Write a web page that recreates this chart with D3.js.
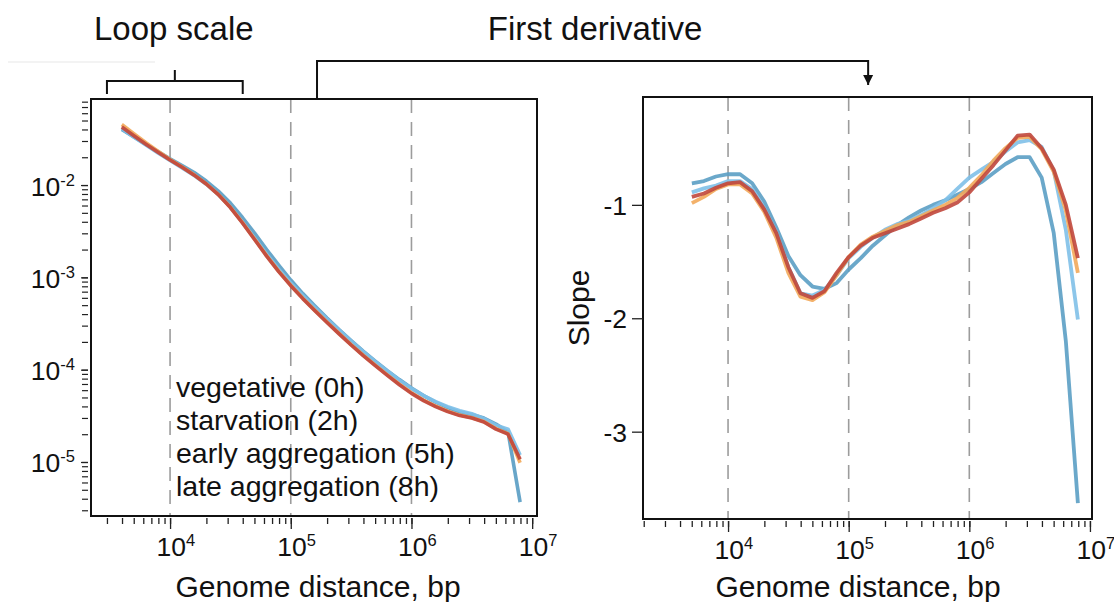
<!DOCTYPE html>
<html>
<head>
<meta charset="utf-8">
<script src="https://cdn.jsdelivr.net/npm/d3@7"></script>
<style>
  body { margin: 0; background: #fff; }
  svg text { font-family: "Liberation Sans", Arial, Helvetica, sans-serif; fill: #111; }
</style>
</head>
<body>
<svg id="chart" width="1114" height="602"></svg>
<script>
// Genomic separations (bp) at which contact probability is sampled
const distanceContact = [3981, 5012, 6310, 7943, 10000, 12589, 15849, 19953, 25119, 31623,
  39811, 50119, 63096, 79433, 100000, 125893, 158489, 199526, 251189, 316228,
  398107, 501187, 630957, 794328, 1000000, 1258925, 1584893, 1995262, 2511886, 3162278,
  3981072, 5011872, 6309573, 7943282];
// Separations at which the log-log slope is sampled
const distanceSlope = [5012, 6310, 7943, 10000, 12589, 15849, 19953, 25119, 31623,
  39811, 50119, 63096, 79433, 100000, 125893, 158489, 199526, 251189, 316228,
  398107, 501187, 630957, 794328, 1000000, 1258925, 1584893, 1995262, 2511886, 3162278,
  3981072, 5011872, 6309573, 7943282];

const stageNames = ["vegetative (0h)", "starvation (2h)", "early aggregation (5h)", "late aggregation (8h)"];
const stageColors = ["#5b9ec4", "#7fc0e8", "#f2a95a", "#c0473c"];

// P(s): contact probability vs. separation
const contactVegetative = [0.0399, 0.0331, 0.0275, 0.0230, 0.0192, 0.01626, 0.01365, 0.01104, 0.00861, 0.00638,
  0.00445, 0.00302, 0.00200, 0.00136, 0.000935, 0.000667, 0.000489, 0.000362, 0.000272, 0.000207,
  0.000159, 0.0001240, 0.0000977, 0.0000781, 0.0000632, 0.0000524, 0.0000446, 0.0000388, 0.0000347, 0.0000327,
  0.0000299, 0.0000258, 0.0000211, 0.00000368];
const contactStarvation = [0.0409, 0.0331, 0.0271, 0.0222, 0.0184, 0.01535, 0.01268, 0.01021, 0.00787, 0.00578,
  0.00397, 0.00267, 0.00179, 0.00123, 0.000867, 0.000635, 0.000471, 0.000353, 0.000268, 0.000204,
  0.000157, 0.0001225, 0.0000966, 0.0000771, 0.0000624, 0.0000524, 0.0000451, 0.0000398, 0.0000360, 0.0000334,
  0.0000295, 0.0000251, 0.0000227, 0.0000119];
const contactEarly = [0.0452, 0.0361, 0.0288, 0.0233, 0.0189, 0.0157, 0.0129, 0.0103, 0.00790, 0.00574,
  0.00392, 0.00260, 0.00172, 0.00117, 0.000822, 0.000594, 0.000439, 0.000328, 0.000247, 0.000187,
  0.000144, 0.000112, 0.0000880, 0.0000698, 0.0000562, 0.0000469, 0.0000404, 0.0000356, 0.0000322, 0.0000302,
  0.0000274, 0.0000230, 0.0000203, 0.0000098];
const contactLate = [0.0425, 0.0342, 0.0277, 0.0227, 0.0187, 0.01555, 0.0128, 0.01026, 0.00787, 0.00570,
  0.00388, 0.00257, 0.00170, 0.001156, 0.000813, 0.000588, 0.000434, 0.000324, 0.000244, 0.000185,
  0.000142, 0.0001104, 0.0000867, 0.0000687, 0.0000554, 0.0000462, 0.0000398, 0.0000351, 0.0000318, 0.0000299,
  0.0000271, 0.0000227, 0.0000200, 0.0000107];

// First derivative of log P(s) vs log s
const slopeVegetative = [-0.81, -0.79, -0.75, -0.73, -0.73, -0.81, -0.97, -1.20, -1.45, -1.62,
  -1.72, -1.74, -1.69, -1.57, -1.47, -1.36, -1.27, -1.18, -1.11, -1.05,
  -1.00, -0.96, -0.91, -0.86, -0.80, -0.72, -0.64, -0.58, -0.58, -0.76,
  -1.25, -2.20, -3.63];
const slopeStarvation = [-0.89, -0.855, -0.83, -0.79, -0.79, -0.86, -1.03, -1.24, -1.55, -1.78,
  -1.80, -1.75, -1.62, -1.47, -1.37, -1.29, -1.22, -1.17, -1.14, -1.09,
  -1.03, -0.96, -0.86, -0.76, -0.69, -0.62, -0.53, -0.45, -0.43, -0.49,
  -0.70, -1.22, -2.01];
const slopeEarly = [-0.985, -0.93, -0.86, -0.82, -0.82, -0.90, -1.06, -1.29, -1.60, -1.81,
  -1.84, -1.77, -1.62, -1.46, -1.35, -1.28, -1.23, -1.18, -1.15, -1.10,
  -1.05, -1.00, -0.94, -0.85, -0.74, -0.61, -0.50, -0.41, -0.40, -0.51,
  -0.71, -1.05, -1.60];
const slopeLate = [-0.93, -0.90, -0.85, -0.81, -0.80, -0.88, -1.04, -1.25, -1.55, -1.78,
  -1.82, -1.76, -1.60, -1.46, -1.36, -1.29, -1.25, -1.21, -1.17, -1.12,
  -1.07, -1.03, -0.98, -0.89, -0.77, -0.65, -0.52, -0.39, -0.38, -0.50,
  -0.69, -1.00, -1.47];

const decadeTicks = [1e4, 1e5, 1e6, 1e7];
const contactDecades = [1e-2, 1e-3, 1e-4, 1e-5];
const slopeTicks = [-1, -2, -3];
const loopScaleRange = [3000, 40000];

const contactSeries = [contactVegetative, contactStarvation, contactEarly, contactLate];
const slopeSeries = [slopeVegetative, slopeStarvation, slopeEarly, slopeLate];

const svg = d3.select("#chart");
const INK = "#111";

// ---------- panel geometry ----------
const L = { left: 91, right: 537, top: 99, bottom: 516 };
const R = { left: 643, right: 1092, top: 97, bottom: 519 };

const xL = d3.scaleLog().domain([Math.pow(10, 3.345), Math.pow(10, 7.04)]).range([L.left, L.right]);
const yL = d3.scaleLog().domain([Math.pow(10, -1.068), Math.pow(10, -5.585)]).range([L.top, L.bottom]);
const xR = d3.scaleLog().domain([Math.pow(10, 3.295), Math.pow(10, 7.017)]).range([R.left, R.right]);
const yR = d3.scaleLinear().domain([-0.049, -3.77]).range([R.top, R.bottom]);

const expOf = v => Math.round(Math.log10(v));

function powerLabel(sel) {
  sel.each(function (d) {
    const t = d3.select(this);
    t.text(null);
    t.append("tspan").text("10");
    t.append("tspan").attr("dy", -10).attr("font-size", 16.5).text(expOf(d));
  });
}

// dashed decade guides
function guides(g, x, P) {
  g.selectAll("line.guide").data(decadeTicks.filter(d => d < 1e7)).join("line")
    .attr("class", "guide")
    .attr("x1", d => x(d)).attr("x2", d => x(d))
    .attr("y1", P.top).attr("y2", P.bottom)
    .attr("stroke", "#9c9c9c").attr("stroke-width", 1.6)
    .attr("stroke-dasharray", "14,9");
}

// log x axis detached below a panel
function logXAxis(x, P, offset) {
  const all = x.ticks().filter(v => v >= x.domain()[0] && v <= x.domain()[1]);
  const minor = svg.append("g").attr("transform", `translate(0,${P.bottom + offset})`)
    .call(d3.axisBottom(x).tickValues(all).tickSize(6).tickFormat(""));
  minor.select(".domain").remove();
  minor.selectAll("line").attr("stroke", "#222").attr("stroke-width", 1.3);
  const major = svg.append("g").attr("transform", `translate(0,${P.bottom + offset})`)
    .call(d3.axisBottom(x).tickValues(decadeTicks).tickSize(11).tickPadding(8));
  major.select(".domain").remove();
  major.selectAll("line").attr("stroke", "#222").attr("stroke-width", 1.3);
  major.selectAll("text")
    .attr("font-size", 26.5).attr("fill", INK)
    .attr("text-anchor", "start")
    .attr("x", -14).attr("dy", "0.71em")
    .call(powerLabel);
}

// ---------- left panel: contact probability ----------
const gL = svg.append("g");
guides(gL, xL, L);

const lineL = d3.line()
  .x(d => xL(d[0])).y(d => yL(d[1]))
  .curve(d3.curveLinear);
gL.selectAll("path.pc").data(contactSeries).join("path")
  .attr("class", "pc")
  .attr("d", s => lineL(distanceContact.map((dd, i) => [dd, s[i]])))
  .attr("fill", "none")
  .attr("stroke", (s, i) => stageColors[i])
  .attr("stroke-width", 3.6)
  .attr("stroke-opacity", 0.92)
  .attr("stroke-linejoin", "round");

gL.append("rect")
  .attr("x", L.left).attr("y", L.top)
  .attr("width", L.right - L.left).attr("height", L.bottom - L.top)
  .attr("fill", "none").attr("stroke", INK).attr("stroke-width", 2);

// y axis (log) detached to the left
{
  const all = yL.ticks().filter(v => v <= yL.domain()[0] && v >= yL.domain()[1]);
  const minor = svg.append("g").attr("transform", `translate(${L.left - 3},0)`)
    .call(d3.axisLeft(yL).tickValues(all).tickSize(6).tickFormat(""));
  minor.select(".domain").remove();
  minor.selectAll("line").attr("stroke", "#222").attr("stroke-width", 1.2);
  const major = svg.append("g").attr("transform", `translate(${L.left - 3},0)`)
    .call(d3.axisLeft(yL).tickValues(contactDecades).tickSize(7).tickPadding(6));
  major.select(".domain").remove();
  major.selectAll("line").attr("stroke", "#222").attr("stroke-width", 1.2);
  major.selectAll("text")
    .attr("font-size", 26.5).attr("fill", INK)
    .attr("dy", 10)
    .call(powerLabel);
}
logXAxis(xL, L, 2);

// stage names
svg.append("g").selectAll("text").data(stageNames).join("text")
  .attr("x", 176)
  .attr("y", (d, i) => 397 + i * 33)
  .attr("font-size", 28.5)
  .text(d => d);

svg.append("text")
  .attr("x", 318).attr("y", 597)
  .attr("text-anchor", "middle").attr("font-size", 30)
  .text("Genome distance, bp");

// ---------- right panel: slope ----------
const gR = svg.append("g");
guides(gR, xR, R);

const lineR = d3.line().x(d => xR(d[0])).y(d => yR(d[1]));
gR.selectAll("path.sl").data(slopeSeries).join("path")
  .attr("class", "sl")
  .attr("d", s => lineR(distanceSlope.map((dd, i) => [dd, s[i]])))
  .attr("fill", "none")
  .attr("stroke", (s, i) => stageColors[i])
  .attr("stroke-width", 3.8)
  .attr("stroke-opacity", 0.9)
  .attr("stroke-linejoin", "round");

gR.append("rect")
  .attr("x", R.left).attr("y", R.top)
  .attr("width", R.right - R.left).attr("height", R.bottom - R.top)
  .attr("fill", "none").attr("stroke", INK).attr("stroke-width", 2);

{
  const ax = svg.append("g").attr("transform", `translate(${R.left},0)`)
    .call(d3.axisLeft(yR).tickValues(slopeTicks).tickSize(11).tickPadding(5)
      .tickFormat(d => "-" + Math.abs(d)));
  ax.select(".domain").remove();
  ax.selectAll("line").attr("stroke", "#222").attr("stroke-width", 1.3);
  ax.selectAll("text").attr("font-size", 26.5).attr("fill", INK).attr("dy", "0.36em");
}
logXAxis(xR, R, 2);

svg.append("text")
  .attr("transform", `translate(589,${(R.top + R.bottom) / 2}) rotate(-90)`)
  .attr("text-anchor", "middle").attr("font-size", 30)
  .text("Slope");

svg.append("text")
  .attr("x", 858).attr("y", 597)
  .attr("text-anchor", "middle").attr("font-size", 30)
  .text("Genome distance, bp");

// ---------- top annotations ----------
const bx0 = xL(loopScaleRange[0]), bx1 = xL(loopScaleRange[1]);
const bmid = (bx0 + bx1) / 2;
svg.append("path")
  .attr("d", `M${bx0},94V81H${bx1}V94M${bmid},81V70`)
  .attr("fill", "none").attr("stroke", INK).attr("stroke-width", 2);
svg.append("text").attr("x", bmid - 1).attr("y", 40)
  .attr("text-anchor", "middle").attr("font-size", 33).text("Loop scale");

// faint rule near the left margin
svg.append("line").attr("x1", 8).attr("x2", 155).attr("y1", 62).attr("y2", 62)
  .attr("stroke", "#f3f3f3").attr("stroke-width", 2);

const ax0 = xL(1.65e5), ax1 = xR(1.45e5);
svg.append("defs").append("marker")
  .attr("id", "head").attr("viewBox", "0 0 10 10")
  .attr("refX", 10).attr("refY", 5)
  .attr("markerWidth", 5).attr("markerHeight", 6)
  .attr("markerUnits", "strokeWidth")
  .attr("orient", "auto")
  .append("path").attr("d", "M0,0L10,5L0,10z").attr("fill", INK);
svg.append("path")
  .attr("d", `M${ax0},${L.top}V61H${ax1}V85`)
  .attr("fill", "none").attr("stroke", INK).attr("stroke-width", 2)
  .attr("marker-end", "url(#head)");
svg.append("text").attr("x", 595).attr("y", 40)
  .attr("text-anchor", "middle").attr("font-size", 33).text("First derivative");
</script>
</body>
</html>
